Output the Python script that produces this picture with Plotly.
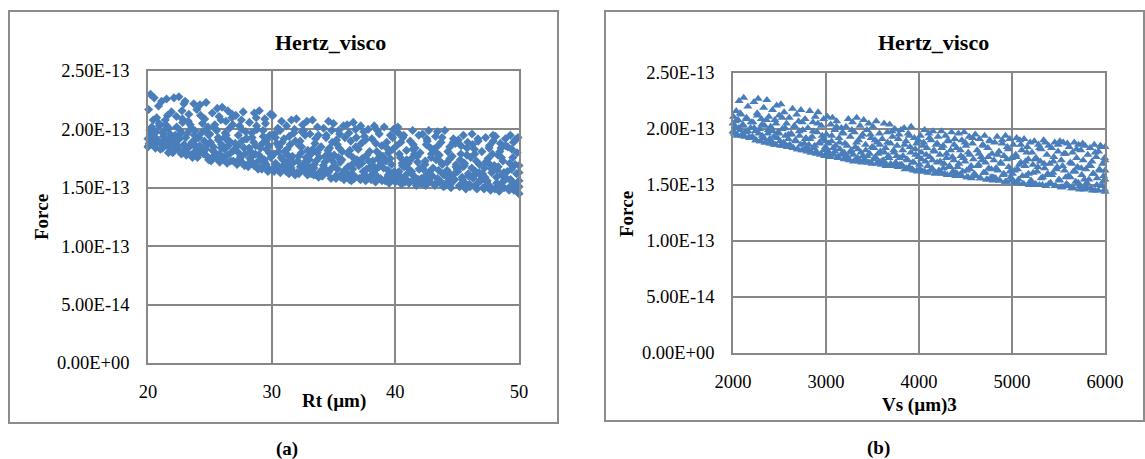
import plotly.graph_objects as go

# ---------------- data ----------------
# Panel (a): Rt (um) vs Force (in units of 1e-13)
rt_main = [
    20.0, 20.0, 20.05, 20.1, 20.2, 20.3, 20.4, 20.5, 20.6, 20.7, 20.8, 20.9, 20.15, 20.55, 20.85,
    21.0, 21.1, 21.2, 21.3, 21.4, 21.5, 21.6, 21.7, 21.8, 21.9, 21.25, 21.65, 21.45, 21.85,
    22.0, 22.1, 22.2, 22.3, 22.4, 22.5, 22.6, 22.7, 22.8, 22.9, 22.15, 22.55, 22.75, 22.95,
    23.0, 23.1, 23.2, 23.3, 23.4, 23.5, 23.6, 23.7, 23.8, 23.9, 23.25, 23.55, 23.75, 23.95,
    24.0, 24.1, 24.2, 24.3, 24.4, 24.5, 24.6, 24.7, 24.8, 24.9, 24.25, 24.55, 24.85, 24.45,
    25.0, 25.1, 25.2, 25.3, 25.4, 25.5, 25.6, 25.7, 25.8, 25.9, 25.25, 25.55, 25.75, 25.95,
    26.0, 26.1, 26.2, 26.3, 26.4, 26.5, 26.6, 26.7, 26.8, 26.9, 26.25, 26.55, 26.85, 26.45,
    27.0, 27.1, 27.2, 27.3, 27.4, 27.5, 27.6, 27.7, 27.8, 27.9, 27.25, 27.55, 27.85, 27.45,
    28.0, 28.1, 28.2, 28.3, 28.4, 28.5, 28.6, 28.7, 28.8, 28.9, 28.25, 28.55, 28.75, 28.95,
    29.0, 29.1, 29.2, 29.3, 29.4, 29.5, 29.6, 29.7, 29.8, 29.9, 29.25, 29.55, 29.85, 29.45,
    30.0, 30.1, 30.2, 30.3, 30.4, 30.5, 30.6, 30.7, 30.8, 30.9, 30.25, 30.55, 30.85, 30.45,
    31.0, 31.1, 31.2, 31.3, 31.4, 31.5, 31.6, 31.7, 31.8, 31.9, 31.25, 31.55, 31.85, 31.45,
    32.0, 32.1, 32.2, 32.3, 32.4, 32.5, 32.6, 32.7, 32.8, 32.9, 32.25, 32.55, 32.85, 32.45,
    33.0, 33.1, 33.2, 33.3, 33.4, 33.5, 33.6, 33.7, 33.8, 33.9, 33.25, 33.55, 33.85, 33.45,
    34.0, 34.1, 34.2, 34.3, 34.4, 34.5, 34.6, 34.7, 34.8, 34.9, 34.25, 34.55, 34.85, 34.45,
    35.0, 35.1, 35.2, 35.3, 35.4, 35.5, 35.6, 35.7, 35.8, 35.9, 35.25, 35.55, 35.85, 35.45,
    36.0, 36.1, 36.2, 36.3, 36.4, 36.5, 36.6, 36.7, 36.8, 36.9, 36.25, 36.55, 36.85, 36.45,
    37.0, 37.1, 37.2, 37.3, 37.4, 37.5, 37.6, 37.7, 37.8, 37.9, 37.25, 37.55, 37.85, 37.45,
    38.0, 38.1, 38.2, 38.3, 38.4, 38.5, 38.6, 38.7, 38.8, 38.9, 38.25, 38.55, 38.85, 38.45,
    39.0, 39.1, 39.2, 39.3, 39.4, 39.5, 39.6, 39.7, 39.8, 39.9, 39.25, 39.55, 39.85, 39.45,
    40.0, 40.1, 40.2, 40.3, 40.4, 40.5, 40.6, 40.7, 40.8, 40.9, 40.25, 40.55, 40.85, 40.45,
    41.0, 41.1, 41.2, 41.3, 41.4, 41.5, 41.6, 41.7, 41.8, 41.9, 41.25, 41.55, 41.85, 41.45,
    42.0, 42.1, 42.2, 42.3, 42.4, 42.5, 42.6, 42.7, 42.8, 42.9, 42.25, 42.55, 42.85, 42.45,
    43.0, 43.1, 43.2, 43.3, 43.4, 43.5, 43.6, 43.7, 43.8, 43.9, 43.25, 43.55, 43.85, 43.45,
    44.0, 44.1, 44.2, 44.3, 44.4, 44.5, 44.6, 44.7, 44.8, 44.9, 44.25, 44.55, 44.85, 44.45,
    45.0, 45.1, 45.2, 45.3, 45.4, 45.5, 45.6, 45.7, 45.8, 45.9, 45.25, 45.55, 45.85, 45.45,
    46.0, 46.1, 46.2, 46.3, 46.4, 46.5, 46.6, 46.7, 46.8, 46.9, 46.25, 46.55, 46.85, 46.45,
    47.0, 47.1, 47.2, 47.3, 47.4, 47.5, 47.6, 47.7, 47.8, 47.9, 47.25, 47.55, 47.85, 47.45,
    48.0, 48.1, 48.2, 48.3, 48.4, 48.5, 48.6, 48.7, 48.8, 48.9, 48.25, 48.55, 48.85, 48.45,
    49.0, 49.1, 49.2, 49.3, 49.4, 49.5, 49.6, 49.7, 49.8, 49.9, 49.25, 49.55, 49.85, 49.45,
    50.0, 50.0, 50.0, 50.0, 50.0,
]
force_a_main = [
    1.85, 1.92, 2.17, 1.88, 2.30, 2.02, 1.96, 2.27, 1.84, 2.10, 1.90, 2.05, 1.99, 1.93, 2.20,
    1.83, 2.24, 1.97, 1.86, 2.08, 2.26, 1.90, 2.01, 1.82, 2.15, 1.94, 1.80, 2.04, 1.93,
    1.80, 2.27, 1.95, 2.11, 1.85, 2.28, 1.99, 1.79, 2.06, 2.22, 1.88, 1.92, 2.16, 1.83,
    2.24, 1.78, 1.97, 2.13, 1.86, 2.01, 1.76, 2.22, 1.91, 1.82, 2.07, 1.89, 1.95, 2.17,
    1.76, 1.93, 2.21, 1.84, 2.05, 1.79, 1.99, 2.23, 1.87, 1.74, 2.12, 1.90, 2.02, 1.81,
    1.96, 1.73, 2.14, 1.85, 2.04, 1.78, 2.18, 1.91, 1.72, 2.08, 1.82, 1.99, 2.11, 1.87,
    2.19, 1.76, 1.93, 2.07, 1.71, 1.86, 2.01, 1.80, 2.13, 1.73, 1.97, 1.89, 2.04, 2.16,
    1.83, 2.12, 1.70, 1.95, 2.03, 1.77, 1.90, 2.15, 1.69, 1.98, 1.86, 2.08, 1.79, 1.73,
    1.92, 1.68, 2.06, 1.81, 1.97, 1.71, 2.14, 1.86, 2.00, 1.66, 1.75, 1.89, 2.10, 1.78,
    2.16, 1.84, 1.66, 1.99, 1.74, 2.05, 1.91, 1.64, 1.80, 2.13, 1.88, 1.70, 1.95, 2.09,
    1.77, 2.12, 1.64, 1.93, 1.70, 2.01, 1.85, 1.63, 2.07, 1.74, 1.96, 1.81, 1.89, 1.67,
    1.92, 1.65, 2.03, 1.78, 1.62, 1.87, 2.08, 1.71, 1.97, 1.61, 1.83, 1.75, 2.00, 1.68,
    2.09, 1.73, 1.62, 1.90, 1.80, 2.04, 1.66, 1.95, 1.76, 1.61, 1.86, 1.70, 2.07, 1.98,
    1.68, 1.96, 1.79, 2.08, 1.61, 1.88, 1.73, 2.02, 1.59, 1.84, 1.65, 1.92, 1.76, 1.70,
    1.85, 1.60, 2.01, 1.72, 1.93, 1.63, 2.07, 1.78, 1.58, 1.89, 1.67, 1.82, 1.99, 1.75,
    2.05, 1.69, 1.58, 1.87, 1.76, 1.96, 1.61, 1.81, 2.03, 1.65, 1.91, 1.72, 1.57, 1.84,
    1.63, 2.04, 1.79, 1.57, 1.90, 1.70, 2.06, 1.60, 1.85, 1.74, 1.97, 1.66, 1.93, 1.56,
    1.83, 1.58, 2.03, 1.71, 1.64, 1.94, 1.56, 1.78, 2.00, 1.67, 1.88, 1.61, 1.73, 1.98,
    1.60, 1.92, 1.69, 2.03, 1.55, 1.81, 1.75, 1.96, 1.58, 1.86, 1.63, 1.99, 1.71, 1.66,
    1.77, 2.02, 1.57, 1.89, 1.65, 1.54, 1.95, 1.70, 1.83, 1.59, 1.73, 1.62, 2.00, 1.80,
    1.55, 1.86, 2.02, 1.64, 1.76, 1.53, 1.93, 1.68, 1.58, 1.82, 1.97, 1.71, 1.61, 1.89,
    1.67, 1.54, 1.90, 1.75, 1.99, 1.60, 1.84, 1.52, 1.72, 1.95, 1.63, 1.79, 1.57, 1.87,
    1.80, 1.58, 1.96, 1.53, 1.70, 1.87, 1.62, 1.99, 1.55, 1.76, 1.66, 1.92, 1.84, 1.52,
    1.60, 1.83, 1.52, 1.74, 1.98, 1.65, 1.56, 1.89, 1.70, 1.51, 1.94, 1.78, 1.62, 1.86,
    1.99, 1.54, 1.72, 1.63, 1.85, 1.50, 1.77, 1.92, 1.57, 1.68, 1.81, 1.60, 1.88, 1.53,
    1.66, 1.91, 1.51, 1.79, 1.59, 1.95, 1.71, 1.49, 1.84, 1.62, 1.74, 1.55, 1.89, 1.68,
    1.53, 1.76, 1.96, 1.58, 1.83, 1.64, 1.49, 1.90, 1.70, 1.56, 1.87, 1.73, 1.61, 1.51,
    1.81, 1.50, 1.67, 1.93, 1.55, 1.75, 1.86, 1.48, 1.63, 1.95, 1.59, 1.71, 1.79, 1.52,
    1.69, 1.94, 1.54, 1.78, 1.47, 1.88, 1.61, 1.73, 1.50, 1.92, 1.65, 1.84, 1.57, 1.81,
    1.58, 1.85, 1.48, 1.95, 1.66, 1.76, 1.52, 1.91, 1.62, 1.46, 1.71, 1.89, 1.80, 1.55,
    1.45, 1.56, 1.63, 1.69, 1.51,
]
# extra points in the dense lower part of the cloud (a)
rt_dense = [
    20.05, 20.18, 20.32, 20.42, 20.58, 20.68, 20.78, 20.92,
    21.05, 21.18, 21.32, 21.42, 21.58, 21.68, 21.78, 21.92,
    22.05, 22.18, 22.32, 22.42, 22.58, 22.68, 22.78, 22.92,
    23.05, 23.18, 23.32, 23.42, 23.58, 23.68, 23.78, 23.92,
    24.05, 24.18, 24.32, 24.42, 24.58, 24.68, 24.78, 24.92,
    25.05, 25.18, 25.32, 25.42, 25.58, 25.68, 25.78, 25.92,
    26.05, 26.18, 26.32, 26.42, 26.58, 26.68, 26.78, 26.92,
    27.05, 27.18, 27.32, 27.42, 27.58, 27.68, 27.78, 27.92,
    28.05, 28.18, 28.32, 28.42, 28.58, 28.68, 28.78, 28.92,
    29.05, 29.18, 29.32, 29.42, 29.58, 29.68, 29.78, 29.92,
    30.05, 30.18, 30.32, 30.42, 30.58, 30.68, 30.78, 30.92,
    31.05, 31.18, 31.32, 31.42, 31.58, 31.68, 31.78, 31.92,
    32.05, 32.18, 32.32, 32.42, 32.58, 32.68, 32.78, 32.92,
    33.05, 33.18, 33.32, 33.42, 33.58, 33.68, 33.78, 33.92,
    34.05, 34.18, 34.32, 34.42, 34.58, 34.68, 34.78, 34.92,
    35.05, 35.18, 35.32, 35.42, 35.58, 35.68, 35.78, 35.92,
    36.05, 36.18, 36.32, 36.42, 36.58, 36.68, 36.78, 36.92,
    37.05, 37.18, 37.32, 37.42, 37.58, 37.68, 37.78, 37.92,
    38.05, 38.18, 38.32, 38.42, 38.58, 38.68, 38.78, 38.92,
    39.05, 39.18, 39.32, 39.42, 39.58, 39.68, 39.78, 39.92,
    40.05, 40.18, 40.32, 40.42, 40.58, 40.68, 40.78, 40.92,
    41.05, 41.18, 41.32, 41.42, 41.58, 41.68, 41.78, 41.92,
    42.05, 42.18, 42.32, 42.42, 42.58, 42.68, 42.78, 42.92,
    43.05, 43.18, 43.32, 43.42, 43.58, 43.68, 43.78, 43.92,
    44.05, 44.18, 44.32, 44.42, 44.58, 44.68, 44.78, 44.92,
    45.05, 45.18, 45.32, 45.42, 45.58, 45.68, 45.78, 45.92,
    46.05, 46.18, 46.32, 46.42, 46.58, 46.68, 46.78, 46.92,
    47.05, 47.18, 47.32, 47.42, 47.58, 47.68, 47.78, 47.92,
    48.05, 48.18, 48.32, 48.42, 48.58, 48.68, 48.78, 48.92,
    49.05, 49.18, 49.32, 49.42, 49.58, 49.68, 49.78, 49.92,
]
force_a_dense = [
    1.86, 1.95, 1.89, 2.08, 1.87, 1.98, 1.91, 2.03,
    1.88, 1.84, 1.99, 1.91, 2.12, 1.85, 1.96, 1.89,
    1.82, 1.90, 2.02, 1.86, 1.81, 1.97, 2.09, 1.87,
    1.93, 1.80, 1.85, 2.04, 1.79, 1.88, 1.99, 1.84,
    1.78, 1.86, 1.97, 1.81, 2.09, 1.83, 1.77, 1.95,
    1.89, 1.76, 1.81, 2.01, 1.75, 1.93, 1.79, 1.84,
    1.74, 1.83, 1.95, 1.78, 1.90, 1.73, 2.10, 1.82,
    1.88, 1.72, 1.80, 1.75, 2.00, 1.71, 1.84, 1.92,
    1.70, 1.84, 1.76, 1.93, 1.69, 1.79, 2.03, 1.73,
    1.77, 1.68, 1.94, 1.72, 1.83, 1.67, 1.86, 1.76,
    1.66, 1.79, 1.71, 1.88, 1.65, 1.99, 1.76, 1.69,
    1.81, 1.64, 1.72, 1.94, 1.67, 1.77, 1.63, 1.90,
    1.63, 1.77, 1.68, 1.85, 1.99, 1.64, 1.73, 1.82,
    1.74, 1.62, 1.83, 1.67, 1.61, 1.80, 1.95, 1.64,
    1.61, 1.69, 1.77, 1.95, 1.63, 1.84, 1.66, 1.73,
    1.78, 1.60, 1.66, 1.99, 1.59, 1.74, 1.62, 1.93,
    1.59, 1.68, 1.82, 1.62, 1.76, 1.58, 2.00, 1.72,
    1.69, 1.57, 1.75, 1.60, 1.91, 1.66, 1.58, 1.81,
    1.57, 1.73, 1.62, 1.88, 1.59, 1.68, 1.78, 1.56,
    1.67, 1.56, 1.84, 1.61, 1.75, 1.57, 1.93, 1.64,
    1.56, 1.62, 1.79, 1.59, 1.69, 1.95, 1.55, 1.74,
    1.71, 1.55, 1.64, 1.83, 1.58, 1.54, 1.77, 1.66,
    1.54, 1.68, 1.59, 1.73, 1.90, 1.56, 1.64, 1.79,
    1.67, 1.53, 1.80, 1.58, 1.55, 1.72, 1.93, 1.61,
    1.52, 1.65, 1.58, 1.75, 1.55, 1.89, 1.62, 1.70,
    1.64, 1.52, 1.86, 1.57, 1.69, 1.50, 1.78, 1.60,
    1.51, 1.67, 1.60, 1.79, 1.53, 1.92, 1.63, 1.57,
    1.62, 1.49, 1.72, 1.56, 1.84, 1.51, 1.66, 1.90,
    1.49, 1.59, 1.68, 1.52, 1.76, 1.55, 1.63, 1.86,
    1.64, 1.50, 1.57, 1.83, 1.48, 1.70, 1.53, 1.93,
]

# Panel (b): Vs (um^3) vs Force (in units of 1e-13)
vs_main = [
    2000, 2000, 2005, 2015, 2025, 2035, 2045, 2055, 2065, 2075, 2085, 2095, 2105, 2115, 2130, 2145, 2160, 2175, 2190,
    2205, 2215, 2225, 2240, 2250, 2260, 2270, 2285, 2295, 2305, 2315, 2330, 2340, 2350, 2365, 2375, 2385, 2395,
    2405, 2415, 2425, 2440, 2450, 2460, 2470, 2485, 2495, 2505, 2515, 2530, 2540, 2550, 2565, 2575, 2585, 2595,
    2605, 2615, 2625, 2640, 2650, 2660, 2670, 2685, 2695, 2705, 2715, 2730, 2740, 2750, 2765, 2775, 2785, 2795,
    2805, 2815, 2825, 2840, 2850, 2860, 2870, 2885, 2895, 2905, 2915, 2930, 2940, 2950, 2965, 2975, 2985, 2995,
    3005, 3015, 3025, 3040, 3050, 3060, 3070, 3085, 3095, 3105, 3115, 3130, 3140, 3150, 3165, 3175, 3185, 3195,
    3205, 3215, 3225, 3240, 3250, 3260, 3270, 3285, 3295, 3305, 3315, 3330, 3340, 3350, 3365, 3375, 3385, 3395,
    3405, 3415, 3425, 3440, 3450, 3460, 3470, 3485, 3495, 3505, 3515, 3530, 3540, 3550, 3565, 3575, 3585, 3595,
    3605, 3615, 3625, 3640, 3650, 3660, 3670, 3685, 3695, 3705, 3715, 3730, 3740, 3750, 3765, 3775, 3785, 3795,
    3805, 3815, 3825, 3840, 3850, 3860, 3870, 3885, 3895, 3905, 3915, 3930, 3940, 3950, 3965, 3975, 3985, 3995,
    4005, 4015, 4025, 4040, 4050, 4060, 4070, 4085, 4095, 4105, 4115, 4130, 4140, 4150, 4165, 4175, 4185, 4195,
    4205, 4215, 4225, 4240, 4250, 4260, 4270, 4285, 4295, 4305, 4315, 4330, 4340, 4350, 4365, 4375, 4385, 4395,
    4405, 4415, 4425, 4440, 4450, 4460, 4470, 4485, 4495, 4505, 4515, 4530, 4540, 4550, 4565, 4575, 4585, 4595,
    4605, 4615, 4625, 4640, 4650, 4660, 4670, 4685, 4695, 4705, 4715, 4730, 4740, 4750, 4765, 4775, 4785, 4795,
    4805, 4815, 4825, 4840, 4850, 4860, 4870, 4885, 4895, 4905, 4915, 4930, 4940, 4950, 4965, 4975, 4985, 4995,
    5005, 5015, 5025, 5040, 5050, 5060, 5070, 5085, 5095, 5105, 5115, 5130, 5140, 5150, 5165, 5175, 5185, 5195,
    5205, 5215, 5225, 5240, 5250, 5260, 5270, 5285, 5295, 5305, 5315, 5330, 5340, 5350, 5365, 5375, 5385, 5395,
    5405, 5415, 5425, 5440, 5450, 5460, 5470, 5485, 5495, 5505, 5515, 5530, 5540, 5550, 5565, 5575, 5585, 5595,
    5605, 5615, 5625, 5640, 5650, 5660, 5670, 5685, 5695, 5705, 5715, 5730, 5740, 5750, 5765, 5775, 5785, 5795,
    5805, 5815, 5825, 5840, 5850, 5860, 5870, 5885, 5895, 5905, 5915, 5930, 5940, 5950, 5965, 5975, 5985, 5995,
    6000, 6000, 6000, 6000, 6000,
]
force_b_main = [
    1.98, 2.05, 2.11, 1.96, 2.02, 2.16, 1.95, 2.08, 2.25, 1.99, 2.13, 1.94, 2.04, 2.28, 1.97, 2.10, 2.20, 1.93, 2.01,
    1.92, 2.06, 2.24, 1.98, 1.90, 2.14, 2.27, 2.00, 1.89, 2.09, 1.94, 2.19, 2.03, 1.88, 2.26, 1.96, 2.11, 1.91,
    2.02, 1.87, 2.17, 1.93, 2.08, 1.86, 2.21, 1.97, 2.12, 1.89, 2.22, 2.00, 1.85, 2.15, 1.94, 2.05, 1.84, 1.91,
    2.10, 1.85, 1.96, 2.18, 1.83, 2.03, 1.90, 2.13, 1.82, 2.07, 1.94, 2.17, 1.81, 1.99, 1.87, 2.09, 1.92, 1.80,
    2.01, 1.86, 2.16, 1.79, 1.93, 2.06, 1.83, 2.11, 1.78, 1.97, 2.15, 1.88, 1.77, 2.03, 1.91, 2.09, 1.76, 1.84,
    1.95, 2.11, 1.80, 1.75, 2.04, 1.89, 2.10, 1.77, 1.99, 1.85, 2.07, 1.74, 1.92, 1.82, 2.01, 1.78, 1.96, 1.73,
    1.87, 2.02, 1.76, 2.09, 1.72, 1.93, 1.81, 2.06, 1.71, 1.97, 1.84, 2.10, 1.74, 1.90, 2.03, 1.79, 1.70, 1.95,
    2.08, 1.73, 1.86, 1.99, 1.70, 2.05, 1.78, 1.92, 1.69, 2.02, 1.83, 1.75, 2.07, 1.88, 1.71, 1.96, 1.80, 1.68,
    1.91, 1.72, 2.05, 1.83, 1.68, 1.97, 1.76, 2.04, 1.87, 1.67, 1.93, 1.79, 2.00, 1.70, 1.85, 1.66, 1.95, 1.74,
    1.99, 1.68, 1.81, 2.01, 1.64, 1.89, 1.73, 1.96, 1.66, 1.84, 2.02, 1.70, 1.63, 1.92, 1.77, 1.87, 1.62, 1.75,
    1.68, 1.94, 1.79, 1.62, 1.88, 1.99, 1.71, 1.83, 1.61, 1.96, 1.75, 1.90, 1.65, 1.98, 1.80, 1.60, 1.86, 1.70,
    1.93, 1.63, 1.77, 1.98, 1.60, 1.85, 1.69, 1.94, 1.74, 1.59, 1.89, 1.66, 1.81, 1.97, 1.62, 1.72, 1.91, 1.58,
    1.83, 1.66, 1.96, 1.59, 1.76, 1.90, 1.62, 1.97, 1.71, 1.85, 1.57, 1.79, 1.93, 1.64, 1.56, 1.87, 1.73, 1.60,
    1.95, 1.58, 1.81, 1.68, 1.91, 1.56, 1.75, 1.86, 1.61, 1.94, 1.70, 1.55, 1.83, 1.65, 1.89, 1.57, 1.78, 1.54,
    1.72, 1.88, 1.56, 1.93, 1.63, 1.80, 1.54, 1.69, 1.90, 1.59, 1.76, 1.94, 1.53, 1.84, 1.66, 1.91, 1.57, 1.74,
    1.60, 1.86, 1.52, 1.77, 1.92, 1.64, 1.55, 1.90, 1.70, 1.81, 1.51, 1.91, 1.67, 1.58, 1.84, 1.73, 1.50, 1.88,
    1.54, 1.79, 1.68, 1.89, 1.51, 1.74, 1.62, 1.86, 1.50, 1.71, 1.82, 1.57, 1.90, 1.65, 1.49, 1.77, 1.60, 1.85,
    1.69, 1.52, 1.83, 1.61, 1.75, 1.88, 1.49, 1.66, 1.80, 1.55, 1.89, 1.72, 1.48, 1.88, 1.63, 1.78, 1.51, 1.87,
    1.58, 1.84, 1.70, 1.47, 1.79, 1.62, 1.88, 1.53, 1.74, 1.66, 1.86, 1.49, 1.81, 1.59, 1.72, 1.46, 1.85, 1.64,
    1.52, 1.77, 1.67, 1.83, 1.47, 1.71, 1.60, 1.86, 1.45, 1.75, 1.56, 1.80, 1.64, 1.85, 1.49, 1.69, 1.58, 1.74,
    1.44, 1.55, 1.63, 1.72, 1.84,
]
# extra points in the dense lower band of (b)
vs_dense = [
    2010, 2028, 2045, 2062, 2078, 2095, 2112, 2128, 2145, 2160, 2178, 2195,
    2210, 2228, 2245, 2262, 2278, 2295, 2312, 2328, 2345, 2360, 2378, 2395,
    2410, 2428, 2445, 2462, 2478, 2495, 2512, 2528, 2545, 2560, 2578, 2595,
    2610, 2628, 2645, 2662, 2678, 2695, 2712, 2728, 2745, 2760, 2778, 2795,
    2810, 2828, 2845, 2862, 2878, 2895, 2912, 2928, 2945, 2960, 2978, 2995,
    3010, 3028, 3045, 3062, 3078, 3095, 3112, 3128, 3145, 3160, 3178, 3195,
    3210, 3228, 3245, 3262, 3278, 3295, 3312, 3328, 3345, 3360, 3378, 3395,
    3410, 3428, 3445, 3462, 3478, 3495, 3512, 3528, 3545, 3560, 3578, 3595,
    3610, 3628, 3645, 3662, 3678, 3695, 3712, 3728, 3745, 3760, 3778, 3795,
    3810, 3828, 3845, 3862, 3878, 3895, 3912, 3928, 3945, 3960, 3978, 3995,
    4010, 4028, 4045, 4062, 4078, 4095, 4112, 4128, 4145, 4160, 4178, 4195,
    4210, 4228, 4245, 4262, 4278, 4295, 4312, 4328, 4345, 4360, 4378, 4395,
    4410, 4428, 4445, 4462, 4478, 4495, 4512, 4528, 4545, 4560, 4578, 4595,
    4610, 4628, 4645, 4662, 4678, 4695, 4712, 4728, 4745, 4760, 4778, 4795,
    4810, 4828, 4845, 4862, 4878, 4895, 4912, 4928, 4945, 4960, 4978, 4995,
    5010, 5028, 5045, 5062, 5078, 5095, 5112, 5128, 5145, 5160, 5178, 5195,
    5210, 5228, 5245, 5262, 5278, 5295, 5312, 5328, 5345, 5360, 5378, 5395,
    5410, 5428, 5445, 5462, 5478, 5495, 5512, 5528, 5545, 5560, 5578, 5595,
    5610, 5628, 5645, 5662, 5678, 5695, 5712, 5728, 5745, 5760, 5778, 5795,
    5810, 5828, 5845, 5862, 5878, 5895, 5912, 5928, 5945, 5960, 5978, 5995,
]
force_b_dense = [
    1.97, 2.07, 1.94, 2.01, 2.14, 1.95, 2.03, 1.93, 2.09, 1.98, 1.92, 2.06,
    1.93, 2.01, 1.90, 2.12, 1.96, 1.89, 2.04, 1.92, 1.88, 2.08, 1.99, 1.87,
    1.89, 1.98, 1.86, 2.05, 1.92, 1.96, 1.85, 2.10, 1.88, 2.01, 1.85, 1.95,
    1.86, 1.95, 1.83, 2.02, 1.89, 1.82, 1.98, 1.86, 2.06, 1.81, 1.91, 1.84,
    1.82, 1.91, 1.79, 1.98, 1.85, 1.80, 2.05, 1.87, 1.78, 1.94, 1.81, 1.89,
    1.78, 1.87, 1.76, 1.94, 1.83, 1.80, 2.02, 1.75, 1.88, 1.77, 1.97, 1.79,
    1.75, 1.85, 1.73, 1.79, 1.99, 1.77, 1.72, 1.88, 1.82, 1.71, 1.93, 1.76,
    1.72, 1.81, 1.76, 1.70, 1.95, 1.84, 1.73, 1.90, 1.69, 1.78, 1.86, 1.71,
    1.70, 1.79, 1.67, 1.88, 1.74, 1.69, 1.98, 1.81, 1.67, 1.76, 1.91, 1.68,
    1.67, 1.76, 1.86, 1.65, 1.72, 1.94, 1.79, 1.64, 1.70, 1.82, 1.63, 1.90,
    1.64, 1.73, 1.85, 1.62, 1.77, 1.67, 1.92, 1.63, 1.72, 1.81, 1.61, 1.87,
    1.62, 1.71, 1.83, 1.65, 1.60, 1.78, 1.90, 1.67, 1.59, 1.75, 1.86, 1.61,
    1.60, 1.69, 1.81, 1.58, 1.74, 1.88, 1.63, 1.57, 1.77, 1.67, 1.92, 1.59,
    1.58, 1.67, 1.78, 1.56, 1.72, 1.85, 1.61, 1.55, 1.75, 1.90, 1.64, 1.57,
    1.56, 1.65, 1.77, 1.54, 1.70, 1.87, 1.60, 1.53, 1.73, 1.82, 1.62, 1.55,
    1.54, 1.63, 1.75, 1.52, 1.68, 1.86, 1.58, 1.51, 1.71, 1.79, 1.60, 1.53,
    1.52, 1.61, 1.73, 1.50, 1.66, 1.83, 1.56, 1.50, 1.69, 1.88, 1.59, 1.51,
    1.51, 1.59, 1.71, 1.49, 1.64, 1.86, 1.54, 1.48, 1.67, 1.78, 1.57, 1.50,
    1.49, 1.57, 1.69, 1.47, 1.62, 1.82, 1.52, 1.46, 1.65, 1.87, 1.55, 1.48,
    1.47, 1.55, 1.67, 1.45, 1.60, 1.79, 1.50, 1.45, 1.63, 1.84, 1.53, 1.46,
]

rt = rt_main + rt_dense
force_a = force_a_main + force_a_dense
vs = vs_main + vs_dense
force_b = force_b_main + force_b_dense

rt_ticks = [20, 30, 40, 50]
vs_ticks = [2000, 3000, 4000, 5000, 6000]
force_tickvals = [0, 0.5e-13, 1.0e-13, 1.5e-13, 2.0e-13, 2.5e-13]
force_ticktext = ["0.00E+00", "5.00E-14", "1.00E-13", "1.50E-13", "2.00E-13", "2.50E-13"]

# ---------------- styling ----------------
W, H = 1145, 459
BLUE = "#4A7EBB"
GRID = "#878787"
FONT = "Liberation Serif"


def fx(p):
    return p / W


def fy(p):
    return 1 - p / H


fig = go.Figure()
fig.add_trace(go.Scatter(
    x=rt, y=[v * 1e-13 for v in force_a], mode="markers",
    marker=dict(symbol="diamond", size=7, color=BLUE, line=dict(width=0)),
    xaxis="x", yaxis="y", cliponaxis=False, showlegend=False, hoverinfo="skip"))
fig.add_trace(go.Scatter(
    x=vs, y=[v * 1e-13 for v in force_b], mode="markers",
    marker=dict(symbol="triangle-up", size=8, color=BLUE, line=dict(width=0)),
    xaxis="x2", yaxis="y2", cliponaxis=False, showlegend=False, hoverinfo="skip"))

common = dict(showgrid=True, gridcolor=GRID, gridwidth=1.5, showline=True, linecolor=GRID,
              linewidth=1.5, mirror=True, zeroline=False, ticks="", automargin=False,
              tickfont=dict(family=FONT, size=18.5, color="black"))

fig.update_layout(
    width=W, height=H, margin=dict(l=0, r=0, t=0, b=0, pad=0, autoexpand=False),
    paper_bgcolor="white", plot_bgcolor="white", showlegend=False,
    xaxis=dict(domain=[fx(148), fx(519)], range=[20, 50], tickvals=rt_ticks,
               anchor="y", ticklabelstandoff=11, **common),
    yaxis=dict(domain=[fy(363), fy(71)], range=[0, 2.5e-13], tickvals=force_tickvals,
               ticktext=force_ticktext, anchor="x", ticklabelstandoff=13, **common),
    xaxis2=dict(domain=[fx(733), fx(1105)], range=[2000, 6000], tickvals=vs_ticks,
                anchor="y2", ticklabelstandoff=11, **common),
    yaxis2=dict(domain=[fy(353), fy(73)], range=[0, 2.5e-13], tickvals=force_tickvals,
                ticktext=force_ticktext, anchor="x2", ticklabelstandoff=13, **common),
)

shapes = [
    dict(type="rect", xref="paper", yref="paper", x0=fx(9), x1=fx(558), y0=fy(423), y1=fy(11),
         line=dict(color="#8C8C8C", width=2), layer="below"),
    dict(type="rect", xref="paper", yref="paper", x0=fx(605), x1=fx(1144), y0=fy(421), y1=fy(11),
         line=dict(color="#8C8C8C", width=2), layer="below"),
]
fig.update_layout(shapes=shapes)


def ann(text, x, y, size, bold=True, angle=0):
    return dict(text=text, x=fx(x), y=fy(y), xref="paper", yref="paper", showarrow=False,
                xanchor="center", yanchor="middle", textangle=angle,
                font=dict(family=FONT, size=size, color="black", weight="bold" if bold else "normal"))


fig.update_layout(annotations=[
    ann("Hertz_visco", 330, 42, 22),
    ann("Hertz_visco", 933, 42, 22),
    ann("Force", 41, 217, 19, angle=-90),
    ann("Force", 626, 214, 19, angle=-90),
    ann("Rt (µm)", 334, 401, 19),
    ann("Vs (µm)3", 919, 405, 19),
    ann("(a)", 287, 449, 19),
    ann("(b)", 878, 448, 19),
])

fig.write_html("out.html")
